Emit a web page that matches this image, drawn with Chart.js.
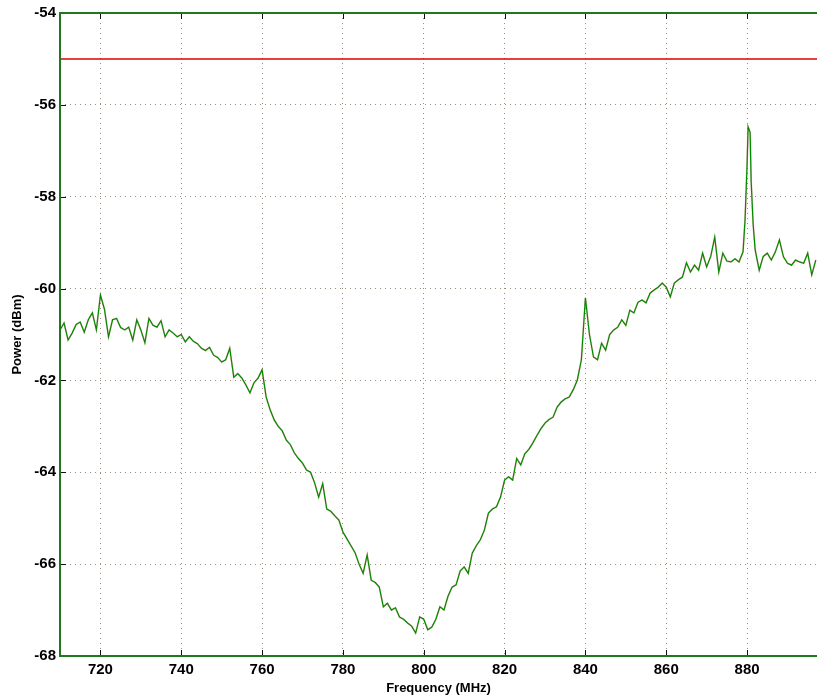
<!DOCTYPE html>
<html lang="en">
<head>
    <meta charset="UTF-8">
    <title>Power vs Frequency</title>
    <script src="https://cdn.jsdelivr.net/npm/chart.js"></script>
    <style>
        html, body { margin: 0; padding: 0; background: #fff; }
        canvas { display: block; }
    </style>
</head>
<body>
    <canvas id="spectrum" width="817" height="698"></canvas>
    <script>
        const freqs = [
            710, 711, 712, 713, 714, 715, 716, 717, 718, 719,
            720, 721, 722, 723, 724, 725, 726, 727, 728, 729,
            730, 731, 732, 733, 734, 735, 736, 737, 738, 739,
            740, 741, 742, 743, 744, 745, 746, 747, 748, 749,
            750, 751, 752, 753, 754, 755, 756, 757, 758, 759,
            760, 761, 762, 763, 764, 765, 766, 767, 768, 769,
            770, 771, 772, 773, 774, 775, 776, 777, 778, 779,
            780, 781, 782, 783, 784, 785, 786, 787, 788, 789,
            790, 791, 792, 793, 794, 795, 796, 797, 798, 799,
            800, 801, 802, 803, 804, 805, 806, 807, 808, 809,
            810, 811, 812, 813, 814, 815, 816, 817, 818, 819,
            820, 821, 822, 823, 824, 825, 826, 827, 828, 829,
            830, 831, 832, 833, 834, 835, 836, 837, 838, 839,
            840, 841, 842, 843, 844, 845, 846, 847, 848, 849,
            850, 851, 852, 853, 854, 855, 856, 857, 858, 859,
            860, 861, 862, 863, 864, 865, 866, 867, 868, 869,
            870, 871, 872, 873, 874, 875, 876, 877, 878, 879,
            879.5, 880, 880.25, 880.75, 881, 881.5, 882, 883, 884, 885,
            886, 887, 888, 889, 890, 891, 892, 893, 894, 895,
            896, 897
        ];
        const power = [
            -60.90, -60.75, -61.12, -60.97, -60.78, -60.73, -60.95, -60.68, -60.53, -60.90,
            -60.14, -60.45, -61.05, -60.68, -60.65, -60.85, -60.90, -60.84, -61.12, -60.68,
            -60.90, -61.18, -60.65, -60.80, -60.84, -60.70, -61.05, -60.90, -60.97, -61.05,
            -61.00, -61.16, -61.05, -61.15, -61.20, -61.30, -61.35, -61.28, -61.45, -61.50,
            -61.60, -61.55, -61.30, -61.93, -61.85, -61.95, -62.10, -62.27, -62.05, -61.95,
            -61.77, -62.36, -62.64, -62.86, -63.00, -63.10, -63.30, -63.40, -63.58, -63.70,
            -63.80, -63.95, -64.00, -64.23, -64.54, -64.25, -64.80, -64.85, -64.95, -65.04,
            -65.30, -65.45, -65.60, -65.75, -66.00, -66.20, -65.80, -66.35, -66.40, -66.50,
            -66.93, -66.85, -67.00, -66.95, -67.15, -67.20, -67.28, -67.35, -67.50, -67.15,
            -67.20, -67.43, -67.37, -67.20, -66.93, -67.00, -66.70, -66.50, -66.45, -66.15,
            -66.06, -66.20, -65.76, -65.60, -65.47, -65.26, -64.89, -64.80, -64.75, -64.54,
            -64.17, -64.10, -64.17, -63.70, -63.84, -63.60, -63.50, -63.36, -63.20, -63.05,
            -62.93, -62.85, -62.80, -62.58, -62.47, -62.40, -62.36, -62.20, -61.99, -61.55,
            -60.20, -61.00, -61.49, -61.55, -61.19, -61.34, -61.00, -60.90, -60.84, -60.68,
            -60.80, -60.47, -60.53, -60.30, -60.25, -60.31, -60.10, -60.03, -59.97, -59.88,
            -59.97, -60.18, -59.88, -59.81, -59.75, -59.44, -59.64, -59.49, -59.60, -59.23,
            -59.53, -59.30, -58.88, -59.64, -59.23, -59.40, -59.42, -59.35, -59.42, -59.20,
            -58.50, -57.30, -56.48, -56.60, -57.64, -58.60, -59.16, -59.60, -59.30, -59.23,
            -59.38, -59.20, -58.94, -59.31, -59.45, -59.49, -59.38, -59.42, -59.45, -59.23,
            -59.70, -59.38
        ];
        const thresholdLevel = -55;
        const xTicks = [720, 740, 760, 780, 800, 820, 840, 860, 880];
        const yTicks = [-68, -66, -64, -62, -60, -58, -56, -54];
        const xMin = 710, xMax = 897.3;
        const yMin = -68, yMax = -54;

        const axisGreen = '#1f7a1f';
        const gridColor = '#9a8c7a';

        // frame + inward tick marks like the original plot
        const framePlugin = {
            id: 'frame',
            afterDraw(chart) {
                const { ctx, chartArea: a, scales } = chart;
                ctx.save();
                ctx.strokeStyle = '#111';
                ctx.lineWidth = 1;
                ctx.beginPath();
                scales.x.ticks.forEach(t => {
                    const px = Math.round(scales.x.getPixelForValue(t.value)) + 0.5;
                    ctx.moveTo(px, a.bottom); ctx.lineTo(px, a.bottom - 6);
                    ctx.moveTo(px, a.top); ctx.lineTo(px, a.top + 6);
                });
                scales.y.ticks.forEach(t => {
                    const py = Math.round(scales.y.getPixelForValue(t.value)) + 0.5;
                    ctx.moveTo(a.left, py); ctx.lineTo(a.left + 6, py);
                });
                ctx.stroke();
                ctx.strokeStyle = axisGreen;
                ctx.lineWidth = 2;
                ctx.beginPath();
                ctx.moveTo(a.right + 2, a.top);
                ctx.lineTo(a.left, a.top);
                ctx.lineTo(a.left, a.bottom);
                ctx.lineTo(a.right + 2, a.bottom);
                ctx.stroke();
                ctx.restore();
            }
        };

        const traceData = freqs.map((f, i) => ({ x: f, y: power[i] }));

        new Chart(document.getElementById('spectrum'), {
            type: 'line',
            data: {
                datasets: [
                    {
                        data: traceData,
                        borderColor: '#008a00',
                        borderWidth: 1.2,
                        pointRadius: 0,
                        tension: 0
                    },
                    {
                        data: traceData,
                        borderColor: 'rgba(230,80,80,0.35)',
                        borderWidth: 1.8,
                        pointRadius: 0,
                        tension: 0
                    },
                    {
                        data: [{ x: xMin, y: thresholdLevel }, { x: xMax, y: thresholdLevel }],
                        borderColor: '#e00000',
                        borderWidth: 1.6,
                        pointRadius: 0
                    }
                ]
            },
            options: {
                responsive: false,
                animation: false,
                layout: { padding: { top: 13, right: 0, left: 0, bottom: 0 } },
                plugins: { legend: { display: false }, tooltip: { enabled: false } },
                scales: {
                    x: {
                        type: 'linear',
                        min: xMin,
                        max: xMax,
                        afterBuildTicks: axis => { axis.ticks = xTicks.map(v => ({ value: v })); },
                        afterFit: scale => { scale.height = 42; },
                        grid: { color: gridColor, lineWidth: 1, drawTicks: false },
                        border: { display: false, dash: [1, 4] },
                        ticks: {
                            color: '#000',
                            padding: 5,
                            maxRotation: 0,
                            font: { family: 'Liberation Sans', size: 15, weight: 'bold' }
                        },
                        title: {
                            display: true,
                            text: 'Frequency (MHz)',
                            color: '#000',
                            font: { family: 'Liberation Sans', size: 13, weight: 'bold' },
                            padding: { top: 0, bottom: 2 }
                        }
                    },
                    y: {
                        min: yMin,
                        max: yMax,
                        afterBuildTicks: axis => { axis.ticks = yTicks.map(v => ({ value: v })); },
                        afterFit: scale => { scale.width = 60; },
                        grid: { color: gridColor, lineWidth: 1, drawTicks: false },
                        border: { display: false, dash: [1, 4] },
                        ticks: {
                            color: '#000',
                            padding: 4,
                            font: { family: 'Liberation Sans', size: 15, weight: 'bold' }
                        },
                        title: {
                            display: true,
                            text: 'Power (dBm)',
                            color: '#000',
                            font: { family: 'Liberation Sans', size: 13, weight: 'bold' },
                            padding: { top: 10, bottom: 0 }
                        }
                    }
                }
            },
            plugins: [framePlugin]
        });
    </script>
</body>
</html>
